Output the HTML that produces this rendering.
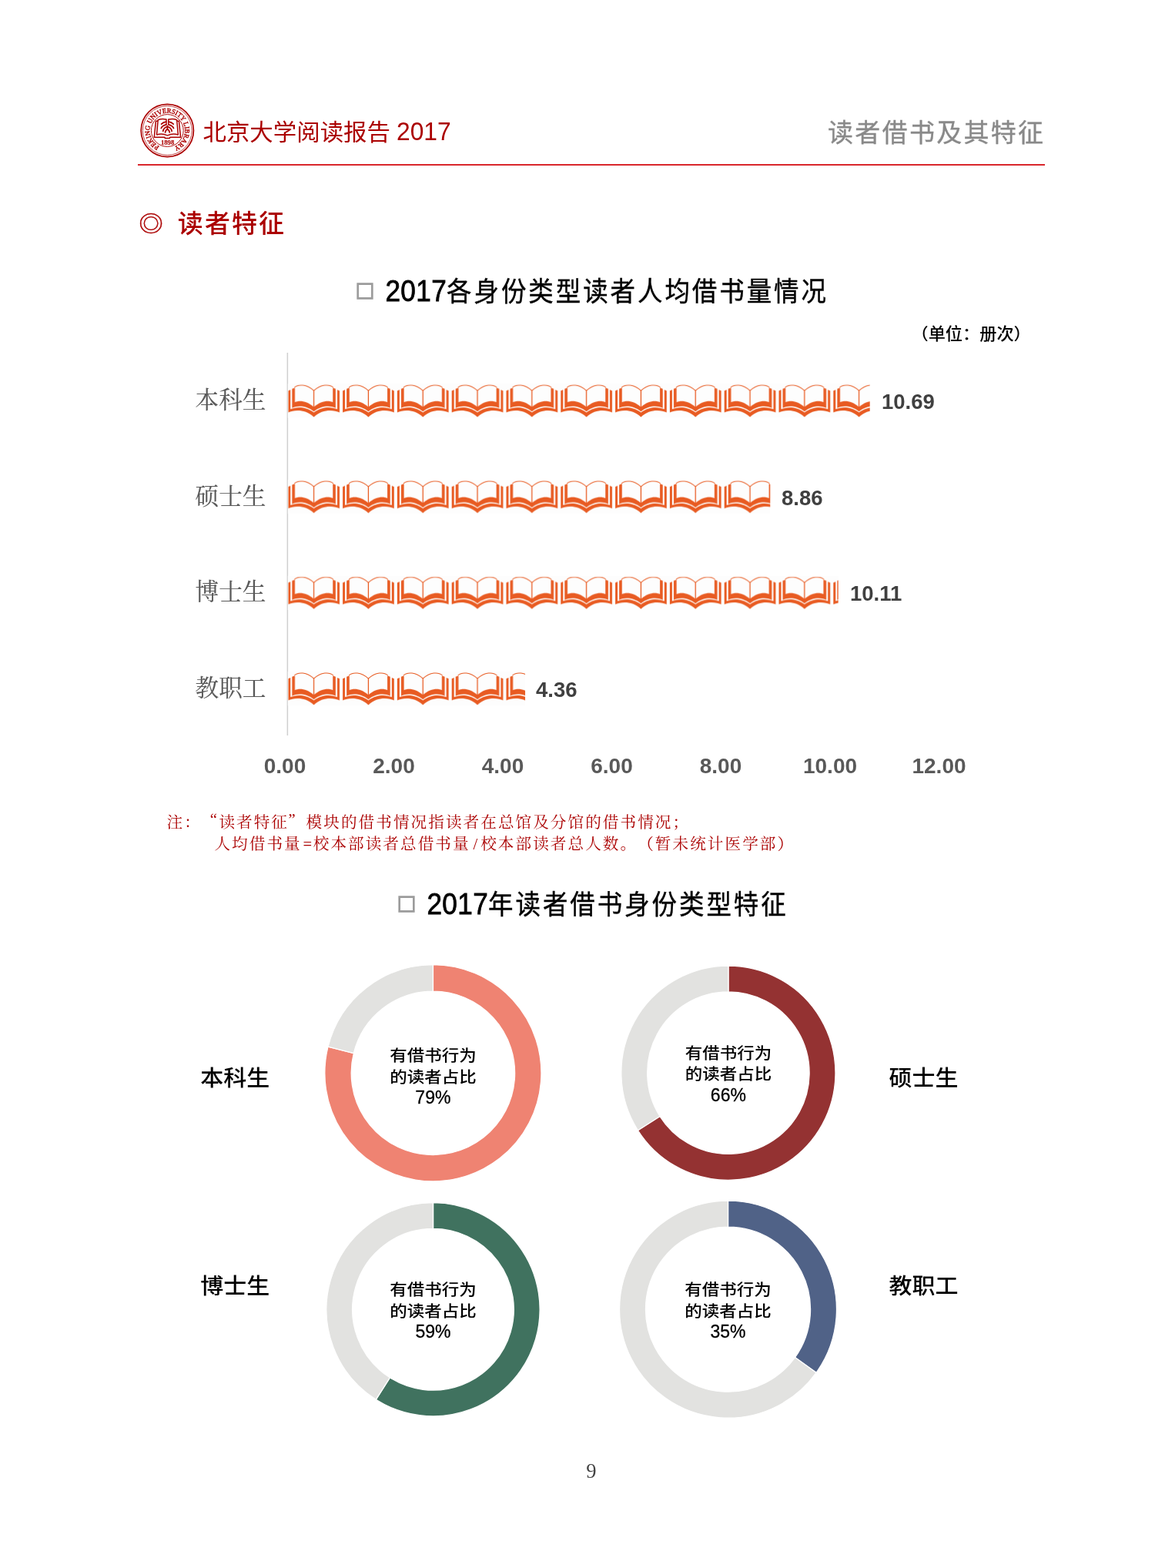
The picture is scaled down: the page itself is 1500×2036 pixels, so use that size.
<!DOCTYPE html>
<html lang="zh-CN">
<head>
<meta charset="utf-8">
<title>北京大学阅读报告 2017 — 读者借书及其特征</title>
<style>
html,body{margin:0;padding:0;background:#fff;}
body{width:1500px;height:2036px;position:relative;overflow:hidden;font-family:"Liberation Sans","Noto Sans CJK SC",sans-serif;color:#000;}
.a{position:absolute;white-space:nowrap;line-height:1;margin:0;padding:0;}
.sans{font-family:"Liberation Sans","Noto Sans CJK SC",sans-serif;}
.serif{font-family:"Liberation Serif","Noto Serif CJK SC",serif;}
#art{position:absolute;left:0;top:0;width:1500px;height:2036px;}
.hd-title{left:263.5px;top:155px;font-size:30.45px;color:#ab0000;transform:scaleY(0.965);transform-origin:0 50%;}
.hd-title b{font-weight:400;display:inline-block;font-size:34.2px;line-height:30px;transform:scaleX(0.93);transform-origin:0 50%;margin-right:-5px;}
.hd-right{left:1075px;top:156px;font-size:33px;letter-spacing:2.3px;color:#898989;-webkit-text-stroke:0.35px #898989;}
.rule{position:absolute;left:179px;top:213px;width:1178px;height:2px;background:#d9262c;}
.sec{left:180.4px;top:274px;font-size:33px;font-weight:500;color:#ab0000;letter-spacing:2.1px;}
.sec .ring{font-weight:400;display:inline-block;width:50.4px;letter-spacing:0;font-size:30px;position:relative;top:-1.2px;left:0.6px;transform:scale(1.04,0.96);transform-origin:15px 50%;-webkit-text-stroke:0.45px #ab0000;}
.ct{font-size:35.3px;font-weight:400;color:#000;letter-spacing:3.2px;transform:scaleX(0.92);transform-origin:0 0;-webkit-text-stroke:0.4px #000;}
.ct b{font-weight:400;-webkit-text-stroke:0.8px #000;display:inline-block;font-size:38.2px;line-height:35px;letter-spacing:0.4px;}
.ct .box{display:inline-block;font-size:33px;line-height:35px;color:#9c9c9c;-webkit-text-stroke:1.4px #9c9c9c;letter-spacing:0;width:23.7px;margin-right:17px;transform:scaleX(1.087);transform-origin:0 50%;position:relative;top:-3.1px;left:1.2px;}
.unit{left:1183.5px;top:422.5px;font-size:22.2px;color:#000;font-weight:500;transform:scaleY(0.95);transform-origin:0 55%;}
.cat{font-size:30.6px;color:#595959;left:253.6px;-webkit-text-stroke:0.15px #595959;}
.val{font-size:27.5px;font-weight:700;color:#404040;}
.tick{font-size:28px;font-weight:700;color:#595959;width:120px;text-align:center;top:980.5px;}
.note{font-size:20.6px;letter-spacing:2.07px;color:#ab0000;text-spacing-trim:space-all;font-weight:400;}
.note i{font-style:normal;display:inline-block;letter-spacing:0;}
.dl{font-size:30px;color:#000;font-weight:500;transform:scaleY(0.95);transform-origin:0 50%;}
.dc{font-size:22.5px;line-height:27.4px;text-align:center;width:200px;color:#000;white-space:nowrap;font-weight:500;}
.dc span{display:block;transform:scaleY(0.905);transform-origin:50% 100%;position:relative;top:0.2px;}
.dc em{font-style:normal;display:block;font-size:23px;-webkit-text-stroke:0.3px #000;position:relative;top:1.5px;}
.pg{left:740px;width:56px;text-align:center;top:1897px;font-size:26.6px;color:#444;}
</style>
</head>
<body>
<svg id="art" width="1500" height="2036" viewBox="0 0 1500 2036">
  <defs>
    <pattern id="bk" patternUnits="userSpaceOnUse" x="374.3" y="0" width="70.8" height="124.6" patternTransform="translate(0,499.2)">
      
<g id="book" fill="#e85b22">
  <path d="M0,8.3 L2.95,6.95 L2.95,32.2 C9,29.5 21,27.4 33.33,36.3 C45.6,27.4 57.6,29.5 63.72,32.2 L63.72,6.95 L66.67,8.3 L66.67,36.3 C58.6,33 44.6,31.6 33.33,42.4 C22,31.6 8,33 0,36.3 Z"/>
  <path d="M5.07,5.8 L8.7,4.2 L8.7,23.2 C14,20.4 24,21 33.33,29.4 C42.6,21 52.6,20.4 57.97,23.2 L57.97,4.2 L61.6,5.8 L61.6,30.75 C54.6,27.15 43.6,27.15 33.33,35.05 C23,27.15 12,27.15 5.07,30.75 Z"/>
  <path d="M8.2,3.9 C13,-0.6 24,-0.6 33.33,8.2 C42.6,-0.6 53.6,-0.6 58.47,3.9" fill="none" stroke="#e85b22" stroke-width="1.05"/>
  <path d="M33.33,8 L33.33,30" fill="none" stroke="#e85b22" stroke-width="1.3"/>
</g>
    </pattern>
    <path id="arc" d="M 207.12,190.01 A 22.9,22.9 0 1 1 226.25,190.58"/>
  </defs>
  <!-- logo -->

  <g fill="none" stroke="#ab0000">
    <circle cx="217.3" cy="169.5" r="34.1" stroke-width="1.7"/>
    <circle cx="217.3" cy="169.5" r="31.9" stroke-width="0.7"/>
    <circle cx="217.3" cy="169.5" r="20.9" stroke-width="0.95"/>
  </g>
  <text font-family="Liberation Serif, serif" font-size="8.9" font-weight="400" fill="#ab0000" stroke="#ab0000" stroke-width="0.42"><textPath href="#arc" startOffset="0" textLength="124.1" lengthAdjust="spacingAndGlyphs">PEKING UNIVERSITY LIBRARY</textPath></text>
  <text x="217.6" y="187.9" text-anchor="middle" font-family="Liberation Serif, serif" font-size="8.3" font-weight="700" fill="#ab0000" stroke="#ab0000" stroke-width="0.15" textLength="17.2" lengthAdjust="spacingAndGlyphs">1898</text>
  <g fill="none" stroke="#ab0000" stroke-linejoin="round">
    <path d="M205.24,157.14 L202.38,157.34 L200.26,178.28 L213.92,178.28 L214.34,179.54 L220.36,179.54 L220.78,178.28 L234.58,178.28 L232.46,157.34 L229.60,157.14" stroke-width="1.5"/>
    <path d="M203.50,175.20 L205.18,155.74 C207.76,154.48 212.80,154.20 216.02,154.98 L216.02,162.32" stroke-width="1.5"/>
    <path d="M231.34,175.20 L229.66,155.74 C227.08,154.48 222.04,154.20 218.76,154.98 L218.76,162.32" stroke-width="1.5"/>
    <path d="M203.50,175.20 C207.20,173.52 212.80,173.80 217.42,175.90 C222.04,173.80 227.64,173.52 231.34,175.20" stroke-width="1.35"/>
    <g stroke-width="1.75" stroke-linecap="round">
      <path d="M215.60,158.12 C213.36,158.40 211.12,159.52 209.58,161.06"/>
      <path d="M215.74,161.90 C212.80,162.60 210.28,164.28 209.30,166.52"/>
      <path d="M219.18,158.12 C221.42,158.40 223.66,159.52 225.20,161.06"/>
      <path d="M219.04,161.90 C221.98,162.60 224.50,164.28 225.48,166.52"/>
      <path d="M211.74,170.30 C212.24,166.80 215.32,164.70 217.42,164.70 C219.52,164.70 222.60,166.80 223.10,170.30"/>
      <path d="M214.54,171.98 C215.04,169.60 216.44,168.06 217.42,168.06 C218.40,168.06 219.80,169.60 220.30,171.98"/>
      <path d="M217.42,163.44 L217.42,168.20"/>
    </g>
  </g>

  <!-- axis -->
  <rect x="372.6" y="458" width="1.5" height="497" fill="#cfcfcf"/>
  <!-- bars -->
  <rect x="373.8" y="498.3" width="755.90" height="44.3" fill="#fdfdfd"/><rect x="374.3" y="499.2" width="755.40" height="43" fill="url(#bk)"/>
<rect x="373.8" y="623.0" width="626.48" height="44.3" fill="#fdfdfd"/><rect x="374.3" y="623.9" width="625.98" height="43" fill="url(#bk)"/>
<rect x="373.8" y="747.8" width="714.88" height="44.3" fill="#fdfdfd"/><rect x="374.3" y="748.7" width="714.38" height="43" fill="url(#bk)"/>
<rect x="373.8" y="872.0" width="308.24" height="44.3" fill="#fdfdfd"/><rect x="374.3" y="872.9" width="307.74" height="43" fill="url(#bk)"/>
  <!-- donuts -->
  <path d="M562.40,1252.70 A140.6,140.6 0 1 1 426.00,1359.19 L459.37,1367.54 A106.2,106.2 0 1 0 562.40,1287.10 Z" fill="#ef8372" stroke="#fff" stroke-width="1.3" stroke-linejoin="round"/>
<path d="M426.00,1359.19 A140.6,140.6 0 0 1 562.40,1252.70 L562.40,1287.10 A106.2,106.2 0 0 0 459.37,1367.54 Z" fill="#e2e2e0" stroke="#fff" stroke-width="1.3" stroke-linejoin="round"/>
<path d="M945.90,1254.10 A139.1,139.1 0 1 1 828.45,1467.73 L857.08,1449.57 A105.2,105.2 0 1 0 945.90,1288.00 Z" fill="#943232" stroke="#fff" stroke-width="1.3" stroke-linejoin="round"/>
<path d="M828.45,1467.73 A139.1,139.1 0 0 1 945.90,1254.10 L945.90,1288.00 A105.2,105.2 0 0 0 857.08,1449.57 Z" fill="#e2e2e0" stroke="#fff" stroke-width="1.3" stroke-linejoin="round"/>
<path d="M562.50,1561.70 A138.6,138.6 0 1 1 488.23,1817.32 L506.35,1788.79 A104.8,104.8 0 1 0 562.50,1595.50 Z" fill="#40725f" stroke="#fff" stroke-width="1.3" stroke-linejoin="round"/>
<path d="M488.23,1817.32 A138.6,138.6 0 0 1 562.50,1561.70 L562.50,1595.50 A104.8,104.8 0 0 0 506.35,1788.79 Z" fill="#e2e2e0" stroke="#fff" stroke-width="1.3" stroke-linejoin="round"/>
<path d="M945.50,1559.20 A141.0,141.0 0 0 1 1060.09,1782.36 L1032.46,1762.55 A107.0,107.0 0 0 0 945.50,1593.20 Z" fill="#506287" stroke="#fff" stroke-width="1.3" stroke-linejoin="round"/>
<path d="M1060.09,1782.36 A141.0,141.0 0 1 1 945.50,1559.20 L945.50,1593.20 A107.0,107.0 0 1 0 1032.46,1762.55 Z" fill="#e2e2e0" stroke="#fff" stroke-width="1.3" stroke-linejoin="round"/>
</svg>

<div class="a sans hd-title">北京大学阅读报告 <b>2017</b></div>
<div class="a sans hd-right">读者借书及其特征</div>
<div class="rule"></div>
<div class="a sans sec"><span class="ring">◎</span>读者特征</div>

<div class="a sans ct" style="left:463px;top:360px;"><span class="box">□</span><b>2017</b>各身份类型读者人均借书量情况</div>
<div class="a sans unit">（单位：册次）</div>

<div class="a serif cat" style="top:505px;">本科生</div>
<div class="a serif cat" style="top:630px;">硕士生</div>
<div class="a serif cat" style="top:754px;">博士生</div>
<div class="a serif cat" style="top:879px;">教职工</div>

<div class="a sans val" style="left:1145px;top:508px;">10.69</div>
<div class="a sans val" style="left:1015px;top:633px;">8.86</div>
<div class="a sans val" style="left:1104px;top:757px;">10.11</div>
<div class="a sans val" style="left:696px;top:882px;">4.36</div>

<div class="a sans tick" style="left:310px;">0.00</div>
<div class="a sans tick" style="left:451.5px;">2.00</div>
<div class="a sans tick" style="left:593px;">4.00</div>
<div class="a sans tick" style="left:734.5px;">6.00</div>
<div class="a sans tick" style="left:876px;">8.00</div>
<div class="a sans tick" style="left:1018px;">10.00</div>
<div class="a sans tick" style="left:1159.5px;">12.00</div>

<div class="a serif note" style="left:216.5px;top:1058px;">注：<i style="width:22.55px;text-align:right;position:relative;top:-4.5px;left:-2.5px;">“</i>读者特征<i style="width:22.55px;text-align:left;position:relative;top:-4.5px;left:-0.5px;">”</i>模块的借书情况指读者在总馆及分馆的借书情况；</div>
<div class="a serif note" style="left:278.4px;top:1085.5px;">人均借书量<i style="width:15px;text-align:center;">=</i>校本部读者总借书量<i style="width:13.5px;text-align:center;">/</i>校本部读者总人数。（暂未统计医学部）</div>

<div class="a sans ct" style="left:517.2px;top:1156px;"><span class="box">□</span><b>2017</b>年读者借书身份类型特征</div>

<div class="a sans dl" style="left:260.3px;top:1385.4px;">本科生</div>
<div class="a sans dl" style="left:1154.4px;top:1385.2px;">硕士生</div>
<div class="a sans dl" style="left:260.3px;top:1655.2px;">博士生</div>
<div class="a sans dl" style="left:1154.4px;top:1655px;">教职工</div>

<div class="a sans dc" style="left:462.4px;top:1356px;"><span>有借书行为</span><span>的读者占比</span><em>79%</em></div>
<div class="a sans dc" style="left:845.9px;top:1352.7px;"><span>有借书行为</span><span>的读者占比</span><em>66%</em></div>
<div class="a sans dc" style="left:462.5px;top:1660px;"><span>有借书行为</span><span>的读者占比</span><em>59%</em></div>
<div class="a sans dc" style="left:845.5px;top:1660px;"><span>有借书行为</span><span>的读者占比</span><em>35%</em></div>

<div class="a serif pg">9</div>
</body>
</html>
